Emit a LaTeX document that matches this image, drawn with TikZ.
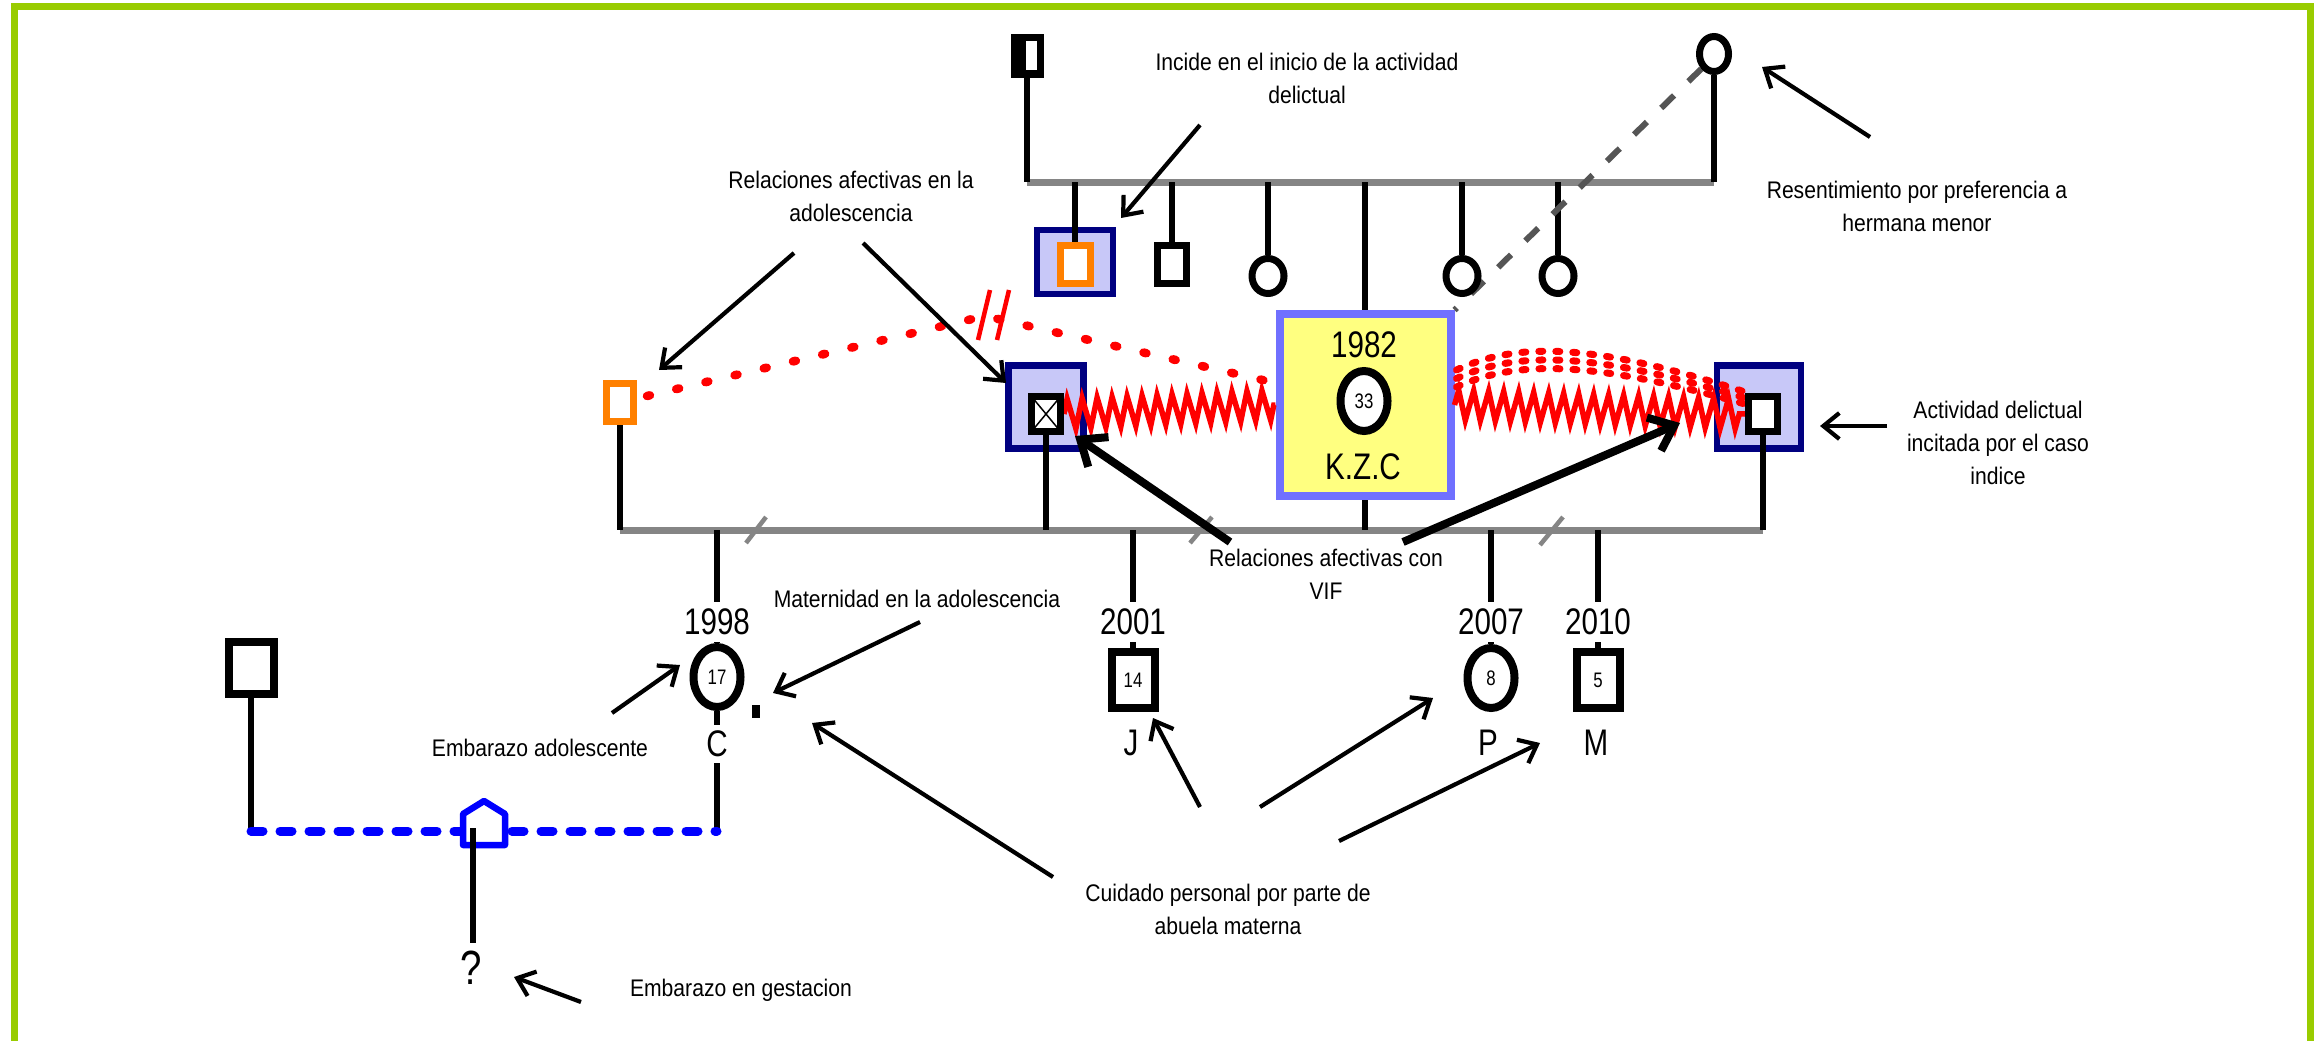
\documentclass[tikz,border=0pt]{standalone}
\usepackage{fontspec}
\setmainfont{Liberation Sans}
\newfontfamily\lblfont[FakeStretch=0.88]{Liberation Sans}
\newfontfamily\numfont[FakeStretch=0.8]{Liberation Sans}
\usetikzlibrary{arrows.meta,decorations.pathmorphing,shapes.geometric,calc}
\definecolor{frameg}{HTML}{99CC00}
\definecolor{sibgray}{HTML}{858585}
\definecolor{navyb}{HTML}{000080}
\definecolor{lilac}{HTML}{C8C8F8}
\definecolor{kzcborder}{HTML}{7070FF}
\definecolor{kzcfill}{HTML}{FFFF80}
\definecolor{orng}{HTML}{FF8000}
\definecolor{dashgray}{HTML}{555555}
\definecolor{pureblue}{HTML}{0000FF}
\definecolor{purered}{HTML}{FF0000}
\pgfdeclarelayer{back}
\pgfdeclarelayer{mid}
\pgfsetlayers{back,mid,main}
\begin{document}
\begin{tikzpicture}[x=1pt,y=-1pt,
  lbl/.style={font=\lblfont\fontsize{24}{33}\selectfont, align=center, inner sep=0pt},
  yrtxt/.style={font=\numfont\fontsize{37}{40}\selectfont, inner sep=0pt},
  yr/.style={yrtxt, fill=white, inner xsep=2pt, inner ysep=7pt},
  age/.style={font=\numfont\fontsize{21}{24}\selectfont},
  sq/.style={draw, line width=7pt, fill=white, rectangle, inner sep=0pt},
  circ/.style={draw, line width=7pt, fill=white, ellipse, inner sep=0pt},
  bigsq/.style={sq, line width=8pt, minimum width=43pt, minimum height=56pt},
  bigcirc/.style={circ, line width=8pt, minimum width=47pt, minimum height=60pt},
  bluebox/.style={draw=navyb, fill=lilac, line width=6.5pt, rectangle, inner sep=0pt},
  orsq/.style={draw=orng, line width=7pt, fill=white, rectangle, inner sep=0pt, minimum width=27pt, minimum height=38pt},
  kin/.style={line width=6.5pt},
  sibline/.style={draw=sibgray, line width=7pt},
  slash/.style={draw=sibgray, line width=4.5pt},
  note/.style={line width=4.2pt, -{Straight Barb[length=16pt,width=26pt]}},
  thicknote/.style={line width=8pt, -{Straight Barb[length=22pt,width=36pt]}},
  reddot/.style={draw=purered, line width=8.5pt, line cap=round, dash pattern=on 3pt off 27pt},
  redarc/.style={draw=purered, line width=7pt, line cap=round, dash pattern=on 4pt off 13pt},
  redzig/.style={draw=purered, line width=5.5pt, decorate, decoration={zigzag, amplitude=15pt, segment length=15pt}},
  graydash/.style={draw=dashgray, line width=6pt, dash pattern=on 18pt off 20pt},
  bluedash/.style={draw=pureblue, line width=9pt, line cap=round, dash pattern=on 12pt off 17pt},
]
\useasboundingbox (0,0) rectangle (2315,1041);
\coordinate (tl) at (1027,182);
\coordinate (tr) at (1714,182);
\coordinate (ml) at (620,530);
\coordinate (mr) at (1763,530);
\coordinate (bl) at (717,831);

\begin{pgfonlayer}{back}
\fill[white] (0,0) rectangle (2315,1041);
\draw[frameg, line width=7pt] (14,1041) -- (14,7) -- (2310,7) -- (2310,1041);
\draw[sibline] (tl) -- (tr);
\draw[sibline] (ml) -- (mr);
\draw[slash] (746,543) -- (766,517);
\draw[slash] (1190,543) -- (1212,517);
\draw[slash] (1540,545) -- (1563,517);
\node[bluebox, minimum width=76pt, minimum height=64pt] (B1) at (1075,262) {};
\node[bluebox, minimum width=75pt, minimum height=83pt] (B2) at (1046,407) {};
\node[bluebox, minimum width=84pt, minimum height=83pt] (B3) at (1759,407) {};
\node[draw=kzcborder, fill=kzcfill, line width=8pt, minimum width=171pt, minimum height=182pt, inner sep=0pt] (KZC) at (1365,405) {};
\end{pgfonlayer}

% symbols
\node[sq, minimum width=26pt, minimum height=36pt,
  path picture={\fill[black] (path picture bounding box.north west) rectangle ([xshift=-1pt]path picture bounding box.south);}] (GF) at (1027,56) {};
\node[circ, minimum width=29pt, minimum height=35pt] (GM) at (1714,54) {};
\node[orsq, minimum width=30pt] (S1) at (1075,264) {};
\node[sq, minimum width=29pt, minimum height=38pt] (S2) at (1172,264) {};
\node[circ, minimum width=32pt, minimum height=35pt] (S3) at (1268,276) {};
\node[circ, minimum width=32pt, minimum height=35pt] (S4) at (1462,276) {};
\node[circ, minimum width=32pt, minimum height=35pt] (S5) at (1558,276) {};
\node[yrtxt] (Y82) at (1364,345) {1982};
\node[bigcirc, age] (IDX) at (1364,401) {33};
\node[yrtxt] (KZCname) at (1363,467) {K.Z.C};
\node[orsq] (OP) at (620,402) {};
\node[sq, minimum width=29pt, minimum height=35pt,
  path picture={\draw[black, line width=1.5pt] (path picture bounding box.north west) -- (path picture bounding box.south east) (path picture bounding box.north east) -- (path picture bounding box.south west);}] (XP) at (1046,414) {};
\node[sq, minimum width=29pt, minimum height=35pt] (RP) at (1763,414) {};
\node[bigcirc, age] (C) at (717,677) {17};
\node[bigsq, age] (J) at (1133,680) {14};
\node[bigcirc, age] (P) at (1491,678) {8};
\node[bigsq, age] (M) at (1598,680) {5};
\node[sq, line width=8pt, minimum width=45pt, minimum height=52pt] (LP) at (251,668) {};
\node[fill, minimum width=8pt, minimum height=13pt, inner sep=0pt] (dot) at (756,711) {};

\begin{pgfonlayer}{mid}
\draw[kin] (GF.south) -- (tl);
\draw[kin] (GM.south) -- (tr);
\foreach \n in {S1,S2,S3,S4,S5,KZC} \draw[kin] (\n.north |- tl) -- (\n.north);
\foreach \n in {OP,XP,KZC,RP} \draw[kin] (\n.south) -- (\n.south |- ml);
\foreach \n in {C,J,P,M} \draw[kin] (\n.north |- ml) -- (\n.north);
\draw[kin] (C.south) -- (bl);
\draw[kin] (LP.south) -- (LP.south |- bl);
\draw[bluedash] (LP.south |- bl) -- (bl);
\draw[graydash] (GM.south west) -- (KZC.north east);
\draw[redzig] (XP.east) -- (KZC.west);
\draw[redzig] (KZC.east) -- (RP.west);
\coordinate (apex) at (985,316);
\draw[reddot] ([xshift=10pt,yshift=6pt]OP.east) -- (apex) -- ([yshift=22pt]KZC.west);
\draw[purered, line width=4.5pt] (978,340) -- (990,290) (997,340) -- (1009,290);
\foreach \k in {0,1,2}
  \draw[redarc] ($(KZC.east)+(2,-35+8.5*\k)$) .. controls (1520,340+9*\k) and (1600,345+9*\k) .. ($(RP.west)+(0,-22+6*\k)$);
\end{pgfonlayer}

% pregnancy symbol
\draw[pureblue, line width=6.5pt, fill=white, line join=round] (463,845) -- (463,814) -- (484,801) -- (505,814) -- (505,845) -- cycle;
\coordinate (preg) at (473,828);
\node[yrtxt, font=\numfont\fontsize{48}{50}\selectfont, inner sep=8pt] (Q) at (471,968) {?};
\draw[kin] (preg) -- (preg |- Q.north);

% years and initials
\node[yr] (Y98) at (717,622) {1998};
\node[yr] (Y01) at (1133,622) {2001};
\node[yr] (Y07) at (1491,622) {2007};
\node[yr] (Y10) at (1598,622) {2010};
\node[yr, inner ysep=6pt] (LC) at (717,744) {C};
\node[yrtxt] (LJ) at (1131,743) {J};
\node[yrtxt] (LPn) at (1488,743) {P};
\node[yrtxt] (LM) at (1596,743) {M};

% annotation labels
\node[lbl] (Linc) at (1307,78) {Incide en el inicio de la actividad\\delictual};
\node[lbl] (Lrel) at (851,196) {Relaciones afectivas en la\\adolescencia};
\node[lbl] (Lres) at (1917,206) {Resentimiento por preferencia a\\hermana menor};
\node[lbl] (Lact) at (1998,443) {Actividad delictual\\incitada por el caso\\indice};
\node[lbl] (Lvif) at (1326,574) {Relaciones afectivas con\\VIF};
\node[lbl] (Lmat) at (917,599) {Maternidad en la adolescencia};
\node[lbl] (Lemb) at (540,748) {Embarazo adolescente};
\node[lbl] (Lcui) at (1228,909) {Cuidado personal por parte de\\abuela materna};
\node[lbl] (Lges) at (741,990) {Embarazo en gestacion};

% annotation arrows
\coordinate (a1s) at (1200,125); \coordinate (a1e) at (1121,218);
\coordinate (a2s) at (1870,137); \coordinate (a2e) at (1762,67);
\coordinate (a3s) at (794,253);  \coordinate (a3e) at (659,370);
\coordinate (a4s) at (863,243);  \coordinate (a4e) at (1006,383);
\coordinate (a5s) at (1887,426); \coordinate (a5e) at (1820,426);
\coordinate (a6s) at (920,622);  \coordinate (a6e) at (773,693);
\coordinate (a7s) at (612,713);  \coordinate (a7e) at (680,665);
\coordinate (a8s) at (1053,877); \coordinate (a8e) at (812,723);
\coordinate (a9s) at (1200,807); \coordinate (a9e) at (1153,718);
\coordinate (a10s) at (1260,807); \coordinate (a10e) at (1433,698);
\coordinate (a11s) at (1339,841); \coordinate (a11e) at (1540,743);
\coordinate (a12s) at (581,1002); \coordinate (a12e) at (514,977);
\coordinate (a13s) at (1230,542); \coordinate (a13e) at (1075,436);
\coordinate (a14s) at (1403,542); \coordinate (a14e) at (1680,423);
\foreach \i in {1,...,12} \draw[note] (a\i s) -- (a\i e);
\draw[thicknote] (a13s) -- (a13e);
\draw[thicknote] (a14s) -- (a14e);
\end{tikzpicture}
\end{document}
